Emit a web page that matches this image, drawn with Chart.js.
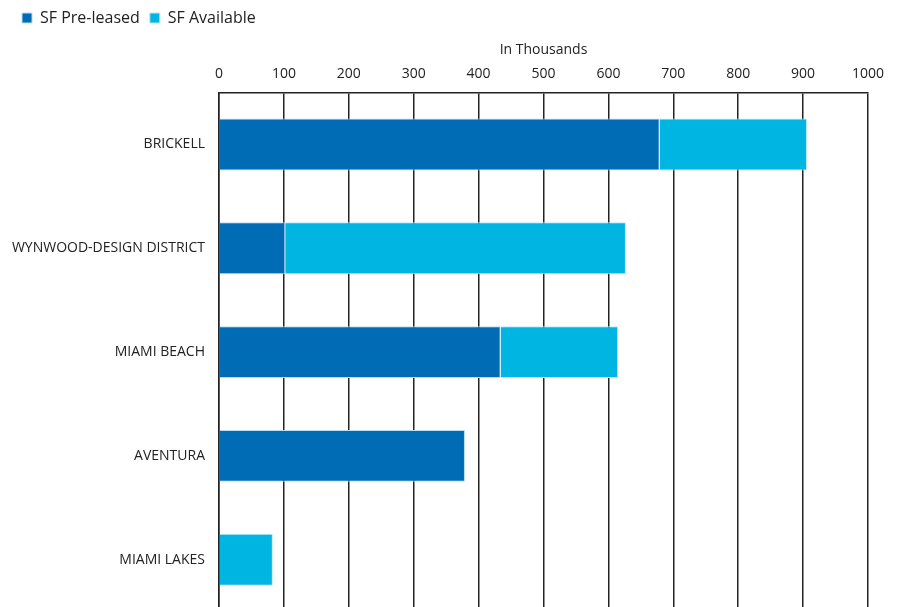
<!DOCTYPE html>
<html>
<head>
<meta charset="utf-8">
<script src="https://cdn.jsdelivr.net/npm/chart.js@4.4.1/dist/chart.umd.min.js"></script>
<style>
  html, body { margin: 0; padding: 0; background: #fff; overflow: hidden; }
  #wrap { position: relative; width: 901px; height: 634px; }
</style>
</head>
<body>
<div id="wrap"><canvas id="chart"></canvas></div>
<script>
const categories = ['BRICKELL', 'WYNWOOD-DESIGN DISTRICT', 'MIAMI BEACH', 'AVENTURA', 'MIAMI LAKES'];
const preLeased = [679, 102, 434, 379, null];
const available = [227, 525, 181, null, 83];
const xTicks = [0, 100, 200, 300, 400, 500, 600, 700, 800, 900, 1000];

const ctx = document.getElementById('chart').getContext('2d');
const font = "'Open Sans', 'Noto Sans', sans-serif";

new Chart(ctx, {
  type: 'bar',
  data: {
    labels: categories,
    datasets: [
      {
        label: 'SF Pre-leased',
        data: preLeased,
        backgroundColor: '#006cb5',
        borderColor: '#b9dcf2',
        borderWidth: 1
      },
      {
        label: 'SF Available',
        data: available,
        backgroundColor: '#00b5e2',
        borderColor: '#b9e9f7',
        borderWidth: 1
      }
    ]
  },
  options: {
    indexAxis: 'y',
    responsive: true,
    maintainAspectRatio: false,
    animation: false,
    layout: { padding: { left: 12, right: 33, top: 0, bottom: 0 } },
    datasets: { bar: { categoryPercentage: 0.5, barPercentage: 1 } },
    plugins: {
      legend: {
        position: 'top',
        align: 'start',
        labels: {
          boxWidth: 10,
          boxHeight: 10,
          padding: 10,
          color: '#222',
          font: { family: font, size: 16 }
        }
      },
      tooltip: { enabled: false }
    },
    scales: {
      x: {
        position: 'top',
        stacked: true,
        min: 0,
        max: 1000,
        afterBuildTicks: scale => { scale.ticks = xTicks.map(v => ({ value: v })); },
        ticks: {
          color: '#222',
          font: { family: font, size: 14 },
          padding: 10,
          callback: v => String(v)
        },
        grid: { color: '#222', lineWidth: 1.5, drawTicks: false },
        border: { color: '#222', width: 1.5 },
        title: {
          display: true,
          text: 'In Thousands',
          color: '#222',
          font: { family: font, size: 14 },
          padding: { top: 6, bottom: -3 }
        }
      },
      y: {
        stacked: true,
        afterFit: scale => { scale.width = 207; },
        ticks: { color: '#222', font: { family: font, size: 14 }, padding: 14 },
        grid: { display: false, drawTicks: false },
        border: { color: '#222', width: 1.5 }
      }
    }
  }
});
</script>
</body>
</html>
